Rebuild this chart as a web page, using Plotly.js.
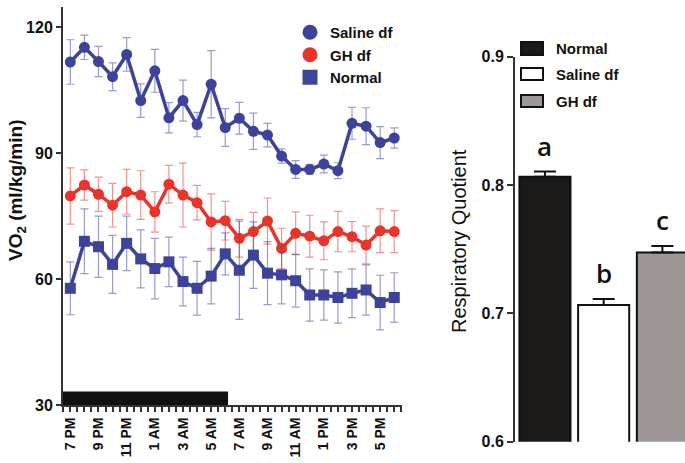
<!DOCTYPE html>
<html>
<head>
<meta charset="utf-8">
<script src="https://cdn.plot.ly/plotly-3.0.1.min.js"></script>
<style>html,body{margin:0;padding:0;background:#fff;}#chart{width:685px;height:463px;}</style>
</head>
<body>
<div id="chart"></div>
<script>
// ---- data ----
const hourLabels = ['7 PM','8 PM','9 PM','10 PM','11 PM','12 AM','1 AM','2 AM','3 AM','4 AM','5 AM','6 AM',
                    '7 AM','8 AM','9 AM','10 AM','11 AM','12 PM','1 PM','2 PM','3 PM','4 PM','5 PM','6 PM'];
const tickLabels = ['7 PM','9 PM','11 PM','1 AM','3 AM','5 AM','7 AM','9 AM','11 AM','1 PM','3 PM','5 PM'];

const salineVO2 = [111.7,115.2,111.8,108.2,113.5,102.5,109.6,98.4,102.5,96.8,106.4,96.1,
                   98.3,95.2,94.3,89.3,86.1,86.1,87.4,85.8,97.1,96.4,92.5,93.6];
const salineErr = [5.3,2.9,3.6,3.3,4.0,4.0,5.1,3.6,4.9,2.9,8.0,4.5,
                   3.8,4.3,2.8,1.7,2.1,1.2,2.1,1.9,3.8,4.4,3.8,2.4];
const ghVO2     = [79.8,82.4,80.2,77.6,80.8,80.0,76.0,82.6,80.0,78.2,73.6,73.9,
                   69.7,71.3,73.8,67.3,70.9,70.2,69.1,71.3,70.1,68.1,71.5,71.3];
const ghErr     = [6.7,3.6,4.1,5.2,5.3,5.8,4.8,4.5,7.6,4.1,6.7,4.6,
                   4.5,4.6,5.5,4.8,5.1,5.0,4.5,4.8,3.6,4.5,5.2,5.0];
const normalVO2 = [57.8,69.0,67.7,63.5,68.5,64.8,62.5,64.1,59.4,57.8,60.7,66.0,
                   62.1,65.7,61.4,61.0,59.6,56.2,56.2,55.6,56.6,57.4,54.4,55.6];
const normalErr = [6.3,7.7,7.3,6.9,6.5,6.9,7.2,5.9,5.8,6.4,6.6,5.0,
                   11.7,7.9,7.5,6.9,6.3,6.2,6.0,6.1,5.8,6.0,6.5,5.9];

// dark phase bar (in hour-index units)
const darkPhase = {start: -0.52, end: 11.2, bottom: 30, top: 33.2};

const rqGroups = ['Normal','Saline df','GH df'];
const rqValues = [0.8065, 0.7065, 0.7475];
const rqErrors = [0.004, 0.0047, 0.005];
const rqLetters = ['a','b','c'];
const rqFill = ['#1c1a19','#ffffff','#9e9797'];

// ---- styling ----
const FONT = 'Liberation Sans, Arial, sans-serif';
const BLUE = '#3d4399';
const RED = '#e8352b';
const W = 685, H = 463;
const px = v => v / W;
const py = v => 1 - v / H;

const xIdx = hourLabels.map((_, i) => i);
const tickVals = tickLabels.map((_, i) => i * 2);

function lineTrace(y, err, color, errColor, symbol, name) {
  return {
    type: 'scatter', mode: 'lines+markers', x: xIdx, y: y, name: name,
    xaxis: 'x', yaxis: 'y', showlegend: false,
    line: {color: color, width: 3.5},
    marker: {color: color, size: 11, symbol: symbol},
    error_y: {type: 'data', array: err, visible: true, color: errColor, thickness: 1.2, width: 4}
  };
}
function legendTrace(color, symbol, name) {
  return {type: 'scatter', mode: 'markers', x: [null], y: [null], name: name,
          xaxis: 'x', yaxis: 'y', marker: {color: color, size: 15, symbol: symbol}};
}

const traces = [
  lineTrace(ghVO2, ghErr, RED, 'rgba(232,60,50,0.55)', 'circle', 'GH df'),
  lineTrace(normalVO2, normalErr, BLUE, 'rgba(70,75,160,0.55)', 'square', 'Normal'),
  lineTrace(salineVO2, salineErr, BLUE, 'rgba(70,75,160,0.55)', 'circle', 'Saline df'),
  legendTrace(BLUE, 'circle', 'Saline df'),
  legendTrace(RED, 'circle', 'GH df'),
  legendTrace(BLUE, 'square', 'Normal'),
  {
    type: 'bar', x: rqGroups.map((_, i) => i), y: rqValues, base: 0, width: 0.87,
    xaxis: 'x2', yaxis: 'y2', showlegend: false,
    marker: {color: rqFill, line: {color: '#111', width: 2}},
    error_y: {type: 'data', array: rqErrors, arrayminus: rqErrors.map(() => 0), symmetric: false,
              visible: true, color: '#111', thickness: 2, width: 11}
  }
];

const shapes = [
  {type: 'rect', xref: 'x', yref: 'y', x0: darkPhase.start, x1: darkPhase.end,
   y0: darkPhase.bottom, y1: darkPhase.top, fillcolor: '#111', line: {width: 0}, layer: 'above'}
];
// right-chart legend swatches
const swatchY = [[42,55],[68,80],[95,107]];
rqGroups.forEach((g, i) => {
  shapes.push({type: 'rect', xref: 'paper', yref: 'paper', x0: px(521), x1: px(543),
               y0: py(swatchY[i][1]), y1: py(swatchY[i][0]), fillcolor: rqFill[i],
               line: {color: '#111', width: 2}});
});

const annotations = [
  {text: 'VO<sub>2</sub> (ml/kg/min)', xref: 'paper', yref: 'paper', x: px(16.5), y: py(190.5),
   xanchor: 'center', yanchor: 'middle',
   textangle: -90, showarrow: false, font: {family: FONT, size: 19, color: '#111', weight: 'bold'}},
  {text: 'Respiratory Quotient', xref: 'paper', yref: 'paper', x: px(459), y: py(241),
   xanchor: 'center', yanchor: 'middle',
   textangle: -90, showarrow: false, font: {family: FONT, size: 20, color: '#111'}}
];
rqGroups.forEach((g, i) => {
  annotations.push({text: g, xref: 'paper', yref: 'paper', x: px(554),
    y: py((swatchY[i][0] + swatchY[i][1]) / 2), xanchor: 'left', yanchor: 'middle', showarrow: false,
    font: {family: FONT, size: 15, color: '#111', weight: 'bold'}});
  annotations.push({text: rqLetters[i], xref: 'x2', yref: 'y2', x: i, y: rqValues[i] + rqErrors[i],
    xanchor: 'center', yanchor: 'bottom', yshift: 6, showarrow: false,
    font: {family: 'Open Sans, sans-serif', size: 26, color: '#111', weight: 600}});
});

const layout = {
  width: W, height: H, margin: {l: 0, r: 0, t: 0, b: 0},
  paper_bgcolor: '#fff', plot_bgcolor: 'rgba(0,0,0,0)',
  showlegend: true,
  legend: {x: px(290), y: py(16), xanchor: 'left', yanchor: 'top', bgcolor: 'rgba(0,0,0,0)',
           font: {family: FONT, size: 15, color: '#111', weight: 'bold'}, itemwidth: 30, tracegroupgap: 0},
  xaxis: {domain: [px(63), px(402)], anchor: 'y', range: [-0.52, 23.55],
          tickmode: 'array', tickvals: tickVals, ticktext: tickLabels, tickangle: -90,
          ticks: 'outside', ticklen: 5, tickwidth: 2, tickcolor: '#333',
          minor: {dtick: 0.5, tick0: 0, ticks: 'outside', ticklen: 5, tickwidth: 2, tickcolor: '#333', showgrid: false},
          showline: true, linecolor: '#333', linewidth: 2, showgrid: false, zeroline: false,
          tickfont: {family: FONT, size: 14, color: '#111', weight: 'bold'}},
  yaxis: {domain: [py(405), py(7)], anchor: 'x', range: [30, 124.8],
          tickmode: 'array', tickvals: [30, 60, 90, 120],
          ticks: 'outside', ticklen: 5, tickwidth: 2, tickcolor: '#333',
          showline: true, linecolor: '#333', linewidth: 2, showgrid: false, zeroline: false,
          tickfont: {family: FONT, size: 16, color: '#111', weight: 'bold'}},
  xaxis2: {domain: [px(515), 1], anchor: 'y2', range: [-0.51, 2.385],
           showticklabels: false, ticks: '', showline: false, showgrid: false, zeroline: false},
  yaxis2: {domain: [py(441.7), py(56.7)], anchor: 'x2', range: [0.6, 0.9],
           tickmode: 'array', tickvals: [0.6, 0.7, 0.8, 0.9], ticktext: ['0.6','0.7','0.8','0.9'],
           ticks: 'outside', ticklen: 6, tickwidth: 2, tickcolor: '#333',
           showline: true, linecolor: '#333', linewidth: 2, showgrid: false, zeroline: false,
           tickfont: {family: FONT, size: 16, color: '#111', weight: 'bold'}},
  shapes: shapes,
  annotations: annotations
};

Plotly.newPlot('chart', traces, layout, {displayModeBar: false, staticPlot: true});
</script>
</body>
</html>
